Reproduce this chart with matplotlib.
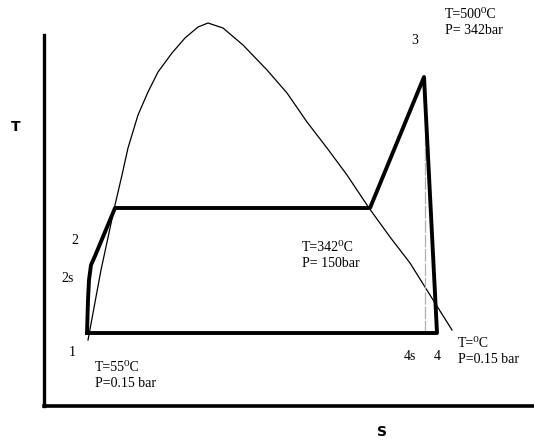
import matplotlib
matplotlib.use("Agg")
import matplotlib.pyplot as plt

plt.rcParams['font.family'] = ['Liberation Serif', 'DejaVu Serif']

# saturation dome (s, T) in arbitrary units
dome_s = [44, 57, 71, 78, 84, 94, 104, 114, 128, 141, 154, 164, 179, 199, 223, 243,
          263, 283, 303, 325, 346, 366, 386, 408]
dome_T = [66, 136, 201, 231, 258, 291, 314, 334, 353, 368, 379, 383, 378, 361, 336, 313,
          284, 258, 231, 198, 169, 143, 111, 76]

# Rankine cycle 1 -> 2s -> 2 -> boil -> 3 -> 4 -> 1
cycle_s = [43, 44, 45, 47, 51, 61, 71, 326, 380, 393, 43]
cycle_T = [73, 106, 126, 141, 150, 174, 198, 198, 329, 73, 73]

# isentropic expansion 3 -> 4s
s4s = [381, 381]
T4s = [73, 329]

fig = plt.figure(figsize=(5.34, 4.46), dpi=100)
ax = fig.add_axes([44 / 534, 40 / 446, 490 / 534, 406 / 446])
ax.set_xlim(0, 490)
ax.set_ylim(0, 406)

ax.plot(dome_s, dome_T, color='black', lw=0.9, solid_joinstyle='round')
ax.plot(s4s, T4s, color='#b0b0b0', lw=0.9, ls=(0, (10, 1.5)))
ax.plot(cycle_s, cycle_T, color='black', lw=2.8, solid_joinstyle='round')

for side in ['top', 'right']:
    ax.spines[side].set_visible(False)
ax.spines['left'].set_linewidth(2.4)
ax.spines['bottom'].set_linewidth(2.6)
ax.spines['left'].set_bounds(0, 371)
ax.set_xticks([])
ax.set_yticks([])

ax.text(-28, 279, 'T', fontsize=10, fontweight='bold', family='DejaVu Sans', ha='center', va='center')
ax.text(338, -26, 'S', fontsize=10, fontweight='bold', family='DejaVu Sans', ha='center', va='center')

fs = 10
ax.text(31, 166, '2', fontsize=fs, ha='center', va='center')
ax.text(24, 127, '2s', fontsize=fs, ha='center', va='center')
ax.text(28, 53, '1', fontsize=fs, ha='center', va='center')
ax.text(371, 366, '3', fontsize=fs, ha='center', va='center')
ax.text(366, 49, '4s', fontsize=fs, ha='center', va='center')
ax.text(393, 49, '4', fontsize=fs, ha='center', va='center')

ax.text(51, 45, 'T=55\u2070C\nP=0.15 bar', fontsize=fs, ha='left', va='top', linespacing=1.3)
ax.text(258, 165, 'T=342\u2070C\nP= 150bar', fontsize=fs, ha='left', va='top', linespacing=1.3)
ax.text(401, 398, 'T=500\u2070C\nP= 342bar', fontsize=fs, ha='left', va='top', linespacing=1.3)
ax.text(414, 69, 'T=\u2070C\nP=0.15 bar', fontsize=fs, ha='left', va='top', linespacing=1.3)

fig.savefig('out.png', dpi=100)
